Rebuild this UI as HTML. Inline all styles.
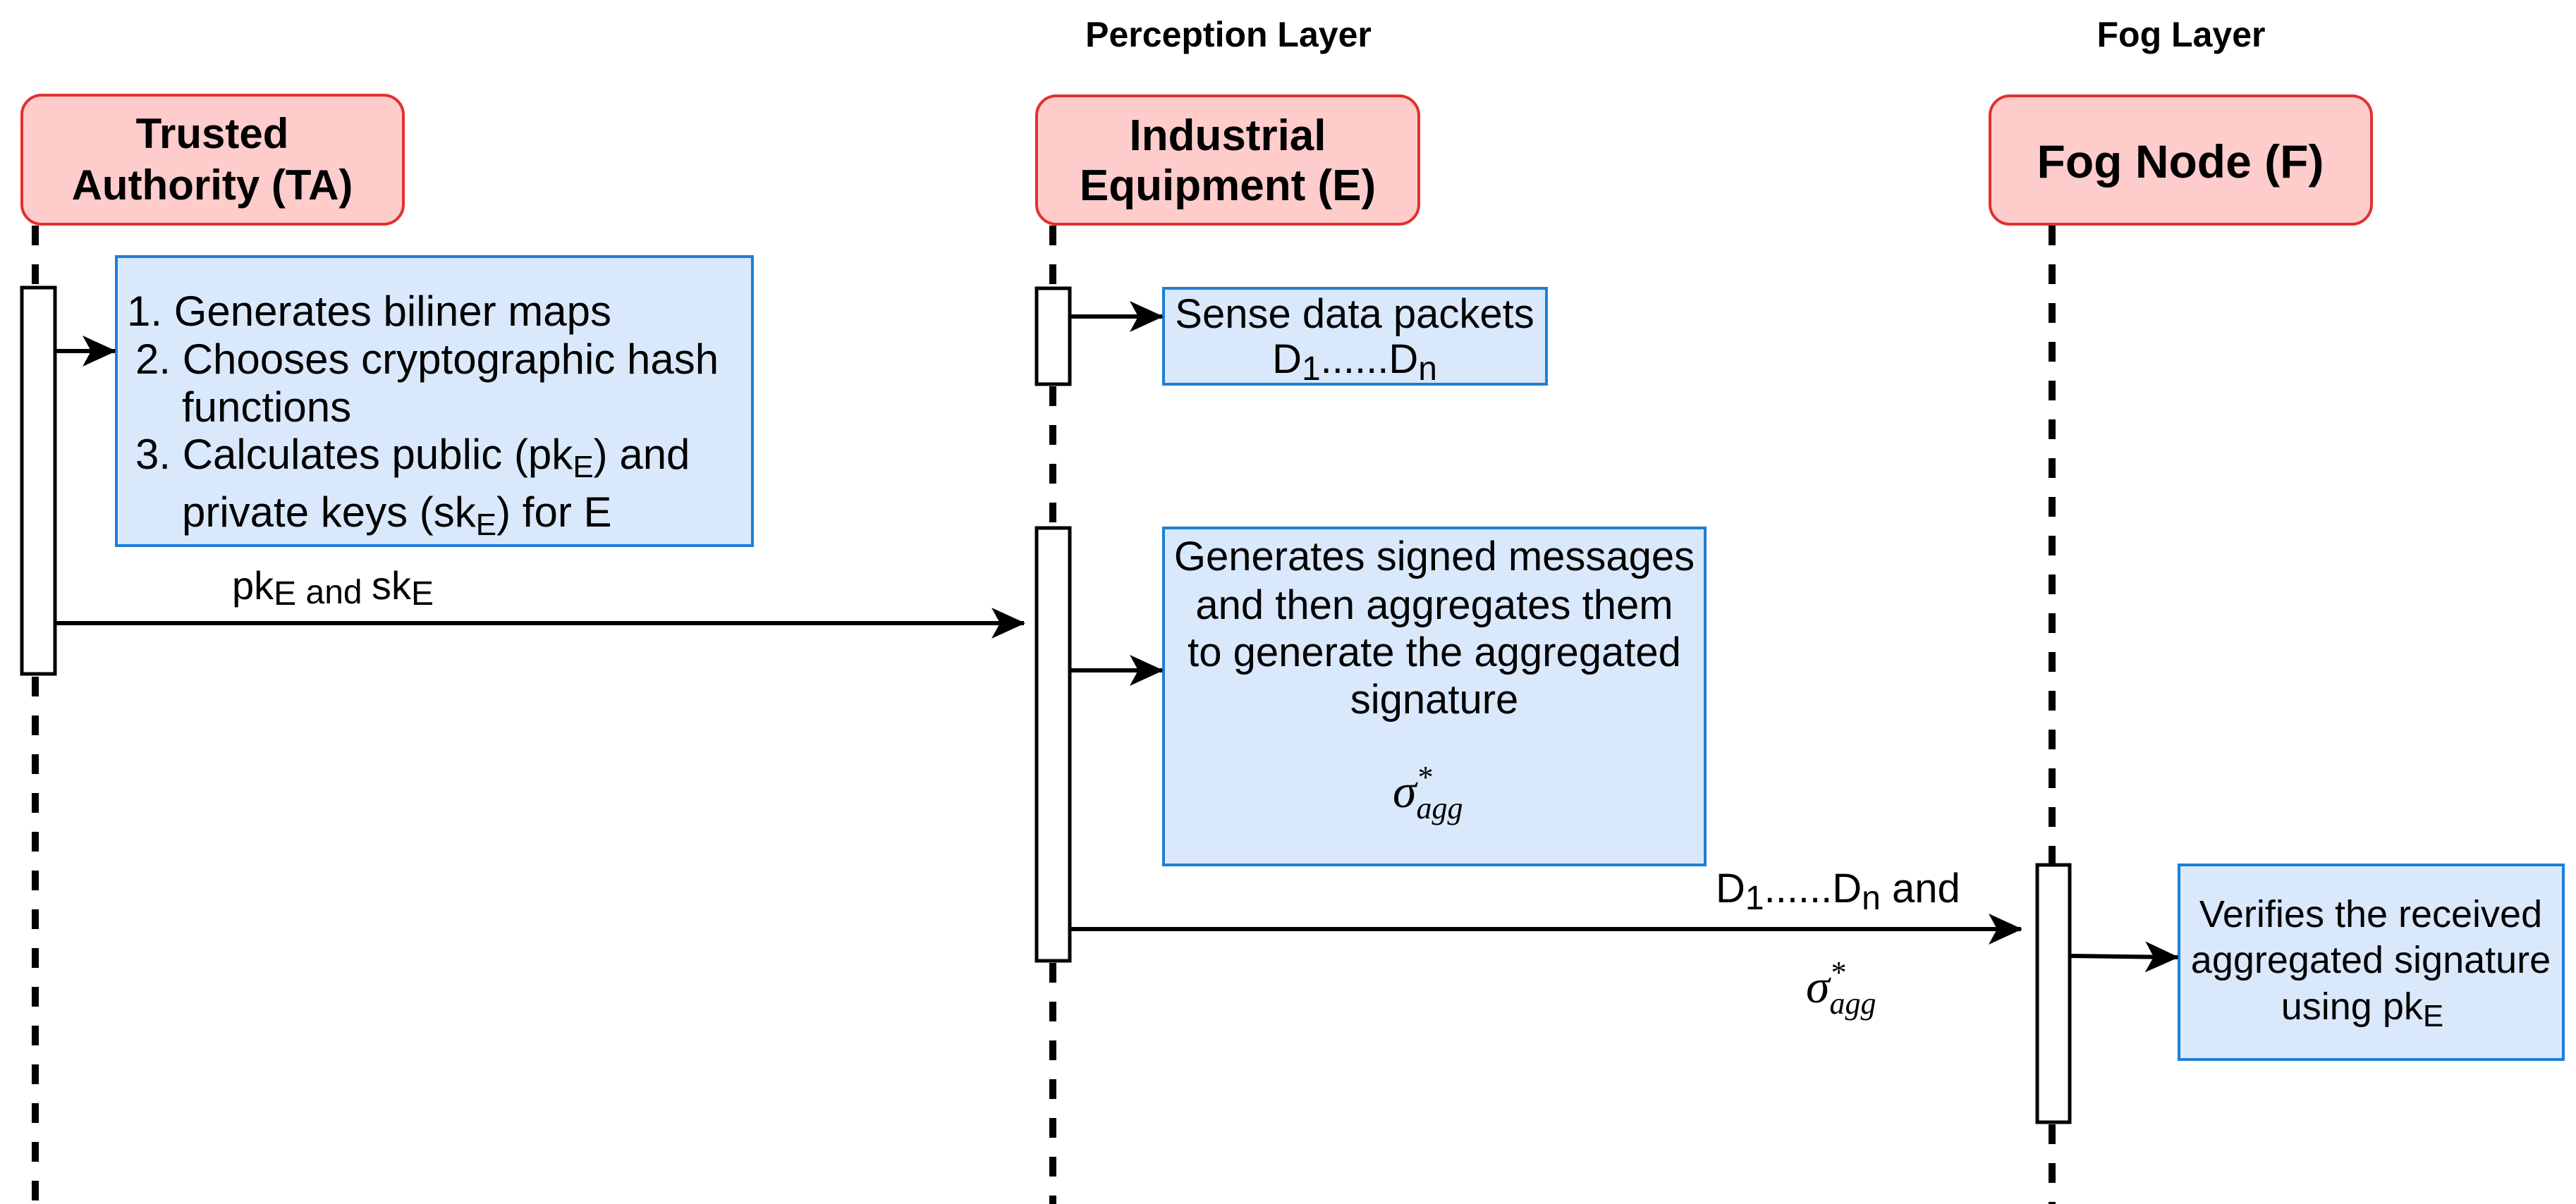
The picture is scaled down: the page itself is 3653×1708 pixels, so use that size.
<!DOCTYPE html>
<html><head><meta charset="utf-8"><style>
html,body{margin:0;padding:0;background:#fff;}
svg{display:block;}
text{font-family:"Liberation Sans",Arial,sans-serif;fill:#000;}
.b{font-weight:bold;}
.m{font-family:"Liberation Serif",serif;font-style:italic;}
</style></head><body>
<svg width="3653" height="1708" viewBox="0 0 3653 1708" xmlns="http://www.w3.org/2000/svg">
<defs>
<marker id="ar" markerWidth="50" markerHeight="44" refX="46" refY="22" orient="auto" markerUnits="userSpaceOnUse">
<path d="M0,0 L48,22 L0,44 L12,22 Z" fill="#000"/>
</marker>
</defs>

<text x="1742" y="66" font-size="50" class="b" text-anchor="middle">Perception Layer</text>
<text x="3093" y="66" font-size="50" class="b" text-anchor="middle">Fog Layer</text>

<g stroke="#000" stroke-width="10" stroke-dasharray="28 27">
<line x1="50" y1="320" x2="50" y2="408"/>
<line x1="50" y1="960" x2="50" y2="1708"/>
<line x1="1493" y1="320" x2="1493" y2="408"/>
<line x1="1493" y1="548" x2="1493" y2="749"/>
<line x1="1493" y1="1366" x2="1493" y2="1708"/>
<line x1="2910" y1="320" x2="2910" y2="1227"/>
<line x1="2910" y1="1595" x2="2910" y2="1708"/>
</g>

<g fill="#ffcccc" stroke="#e0312f" stroke-width="4">
<rect x="31" y="135" width="541" height="183" rx="28"/>
<rect x="1470" y="136" width="542" height="182" rx="28"/>
<rect x="2822" y="136" width="541" height="182" rx="28"/>
</g>
<text x="301" y="210" font-size="60" class="b" text-anchor="middle">Trusted</text>
<text x="301" y="283" font-size="60" class="b" text-anchor="middle">Authority (TA)</text>
<text x="1741" y="213" font-size="62" class="b" text-anchor="middle">Industrial</text>
<text x="1741" y="284" font-size="62" class="b" text-anchor="middle">Equipment (E)</text>
<text x="3092" y="252" font-size="66" class="b" text-anchor="middle">Fog Node (F)</text>

<g fill="#dae8fc" stroke="#1e7fd8" stroke-width="4">
<rect x="165" y="364" width="902" height="410"/>
<rect x="1650" y="409" width="543" height="136"/>
<rect x="1650" y="749" width="768" height="478"/>
<rect x="3090" y="1227" width="545" height="276"/>
</g>

<g font-size="60">
<text x="180" y="462">1. Generates biliner maps</text>
<text x="192" y="530">2. Chooses cryptographic hash</text>
<text x="258" y="598">functions</text>
<text x="192" y="665">3. Calculates public (pk<tspan font-size="44" dy="12">E</tspan><tspan dy="-12">) and</tspan></text>
<text x="258" y="747">private keys (sk<tspan font-size="44" dy="12">E</tspan><tspan dy="-12">) for E</tspan></text>
</g>

<text x="1921" y="465" font-size="58" text-anchor="middle">Sense data packets</text>
<text x="1921" y="529" font-size="58" text-anchor="middle">D<tspan font-size="48" dy="10">1</tspan><tspan dy="-10">......D</tspan><tspan font-size="48" dy="10">n</tspan></text>

<g font-size="58" text-anchor="middle">
<text x="2034" y="809">Generates signed messages</text>
<text x="2034" y="878">and then aggregates them</text>
<text x="2034" y="945">to generate the aggregated</text>
<text x="2034" y="1012">signature</text>
</g>
<text x="1975" y="1145" font-size="68" class="m">σ<tspan font-size="44" dy="-28">*</tspan><tspan font-size="44" dx="-22" dy="44">agg</tspan></text>

<g font-size="54" text-anchor="middle">
<text x="3362" y="1315">Verifies the received</text>
<text x="3362" y="1380">aggregated signature</text>
<text x="3350" y="1446">using pk<tspan font-size="44" dy="10">E</tspan></text>
</g>

<g fill="#fff" stroke="#000" stroke-width="5">
<rect x="31" y="408" width="47" height="548"/>
<rect x="1470" y="409" width="47" height="136"/>
<rect x="1470" y="749" width="47" height="614"/>
<rect x="2889" y="1227" width="46" height="365"/>
</g>

<g stroke="#000" stroke-width="6" marker-end="url(#ar)">
<line x1="78" y1="498" x2="163" y2="498"/>
<line x1="78" y1="884" x2="1452" y2="884"/>
<line x1="1517" y1="449" x2="1648" y2="449"/>
<line x1="1517" y1="951" x2="1648" y2="951"/>
<line x1="1517" y1="1318" x2="2866" y2="1318"/>
<line x1="2935" y1="1356" x2="3088" y2="1358"/>
</g>

<text x="329" y="850" font-size="56">pk<tspan font-size="48" dy="8">E</tspan><tspan font-size="48" dy="-2"> and </tspan><tspan dy="-6">sk</tspan><tspan font-size="48" dy="8">E</tspan></text>
<text x="2433" y="1280" font-size="58">D<tspan font-size="48" dy="10">1</tspan><tspan dy="-10">......D</tspan><tspan font-size="48" dy="10">n</tspan><tspan dy="-10"> and</tspan></text>
<text x="2561" y="1422" font-size="68" class="m">σ<tspan font-size="44" dy="-28">*</tspan><tspan font-size="44" dx="-22" dy="44">agg</tspan></text>
</svg>
</body></html>
